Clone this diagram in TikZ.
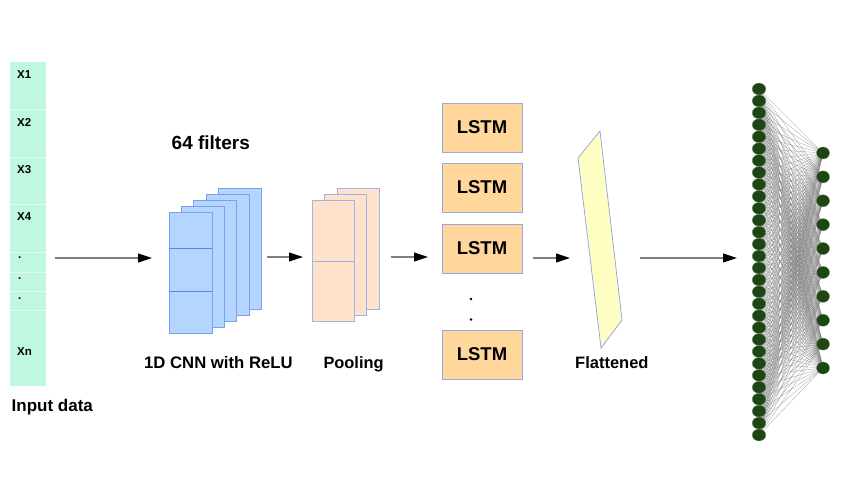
\documentclass[tikz,border=0pt]{standalone}
\usepackage{fontspec}
\setmainfont{Liberation Sans}
\usetikzlibrary{arrows.meta,shapes.geometric}
\definecolor{mint}{RGB}{191,247,225}
\definecolor{mintline}{RGB}{225,251,240}
\definecolor{cnnfill}{RGB}{179,213,255}
\definecolor{cnnline}{RGB}{120,162,235}
\definecolor{cnndiv}{RGB}{90,135,230}
\definecolor{poolfill}{RGB}{255,226,204}
\definecolor{poolline}{RGB}{165,178,232}
\definecolor{lstmfill}{RGB}{255,214,155}
\definecolor{lstmline}{RGB}{150,170,225}
\definecolor{flatfill}{RGB}{255,255,196}
\definecolor{flatline}{RGB}{140,160,230}
\definecolor{neuron}{RGB}{30,70,20}
\begin{document}
\begin{tikzpicture}[x=1pt,y=-1pt,
  arr/.style={draw=black!50, line width=1.1pt, -{Triangle[length=14pt,width=9pt,color=black]}},
  lbl/.style={inner sep=0pt, font=\bfseries\fontsize{16.7}{18}\selectfont, anchor=base west},
  xlbl/.style={inner sep=0pt, font=\bfseries\fontsize{11.5}{12}\selectfont, anchor=base west},
  lstmbox/.style={draw=lstmline, fill=lstmfill, line width=0.7pt, minimum width=80pt, minimum height=49pt, inner sep=0pt, font=\bfseries\fontsize{18.5}{20}\selectfont},
  cnnsheet/.style={draw=cnnline, fill=cnnfill, line width=0.8pt},
  poolsheet/.style={draw=poolline, fill=poolfill, line width=0.8pt},
  lneuron/.style={ellipse, fill=neuron, draw=neuron!70!white, line width=0.3pt, minimum width=13.5pt, minimum height=11.8pt, inner sep=0pt},
  rneuron/.style={ellipse, fill=neuron, draw=neuron!70!white, line width=0.3pt, minimum width=13pt, minimum height=12pt, inner sep=0pt},
  edge/.style={draw=black!50, line width=0.3pt, opacity=0.75}
]
\useasboundingbox (0,0) rectangle (850,478);

% ---------- input column ----------
\fill[mint] (10,62) rectangle (46,386);
\foreach \yy in {109,157,204,252,272,291,310}
  \draw[mintline, line width=0.8pt] (10,\yy) -- (46,\yy);
\node[xlbl] (x1) at (17,78.5) {X1};
\node[xlbl] (x2) at (17,126.5) {X2};
\node[xlbl] (x3) at (17,173.5) {X3};
\node[xlbl] (x4) at (17,220.5) {X4};
\node[xlbl] (d1) at (18,258) {.};
\node[xlbl] (d2) at (18,279) {.};
\node[xlbl] (d3) at (18,299) {.};
\node[xlbl] (xn) at (17,355) {Xn};
\node[lbl, font=\bfseries\fontsize{17}{18}\selectfont] (inlbl) at (11.5,411) {Input data};

% ---------- arrow 1 ----------
\coordinate (a1s) at (55,258);
\coordinate (a1e) at (152,258);
\draw[arr] (a1s) -- (a1e);

% ---------- CNN stack ----------
\foreach \i in {4,3,2,1,0}
  \draw[cnnsheet] ({169+12.3*\i},{212-6*\i}) rectangle ++(43,121);
\draw[cnndiv, line width=0.8pt] (169,248) -- (212,248);
\draw[cnndiv, line width=0.8pt] (169,291) -- (212,291);
\node[lbl, font=\bfseries\fontsize{19}{20}\selectfont] (filters) at (171.5,149.3) {64 filters};
\node[lbl] (cnnlbl) at (144,368.3) {1D CNN with ReLU};

% ---------- arrow 2 ----------
\coordinate (a2s) at (267,257);
\coordinate (a2e) at (303,257);
\draw[arr] (a2s) -- (a2e);

% ---------- pooling stack ----------
\foreach \i in {2,1,0}
  \draw[poolsheet] ({312+12.5*\i},{200-6*\i}) rectangle ++(42,121);
\draw[poolline, line width=0.8pt] (312,261) -- (354,261);
\node[lbl, font=\bfseries\fontsize{16.4}{18}\selectfont] (poollbl) at (323.3,368.3) {Pooling};

% ---------- arrow 3 ----------
\coordinate (a3s) at (391,257);
\coordinate (a3e) at (428,257);
\draw[arr] (a3s) -- (a3e);

% ---------- LSTM ----------
\node[lstmbox] (l1) at (482,127.5) {LSTM};
\node[lstmbox] (l2) at (482,187.5) {LSTM};
\node[lstmbox] (l3) at (482,248.5) {LSTM};
\node[lstmbox] (l4) at (482,354.5) {LSTM};
\fill (471,299) circle (1.4pt);
\fill (471,319.5) circle (1.4pt);

% ---------- arrow 4 ----------
\coordinate (a4s) at (533,258);
\coordinate (a4e) at (570,258);
\draw[arr] (a4s) -- (a4e);

% ---------- flattened ----------
\filldraw[fill=flatfill, draw=flatline, line width=0.7pt]
  (578,158) -- (600,131) -- (622,320) -- (601,348) -- cycle;
\node[lbl, font=\bfseries\fontsize{16.5}{18}\selectfont] (flatlbl) at (575,368.3) {Flattened};

% ---------- arrow 5 ----------
\coordinate (a5s) at (640,258);
\coordinate (a5e) at (737,258);
\draw[arr] (a5s) -- (a5e);

% ---------- dense network ----------
\foreach \i in {1,...,30}
  \coordinate (L\i) at (759,{89+(\i-1)*346/29});
\foreach \j in {1,...,10}
  \coordinate (R\j) at (823,{153+(\j-1)*215/9});
\foreach \i in {1,...,30}
  \foreach \j in {1,...,10}
    \draw[edge] (L\i) -- (R\j);
\foreach \i in {1,...,30}
  \node[lneuron] (nL\i) at (L\i) {};
\foreach \j in {1,...,10}
  \node[rneuron] (nR\j) at (R\j) {};
\end{tikzpicture}
\end{document}
